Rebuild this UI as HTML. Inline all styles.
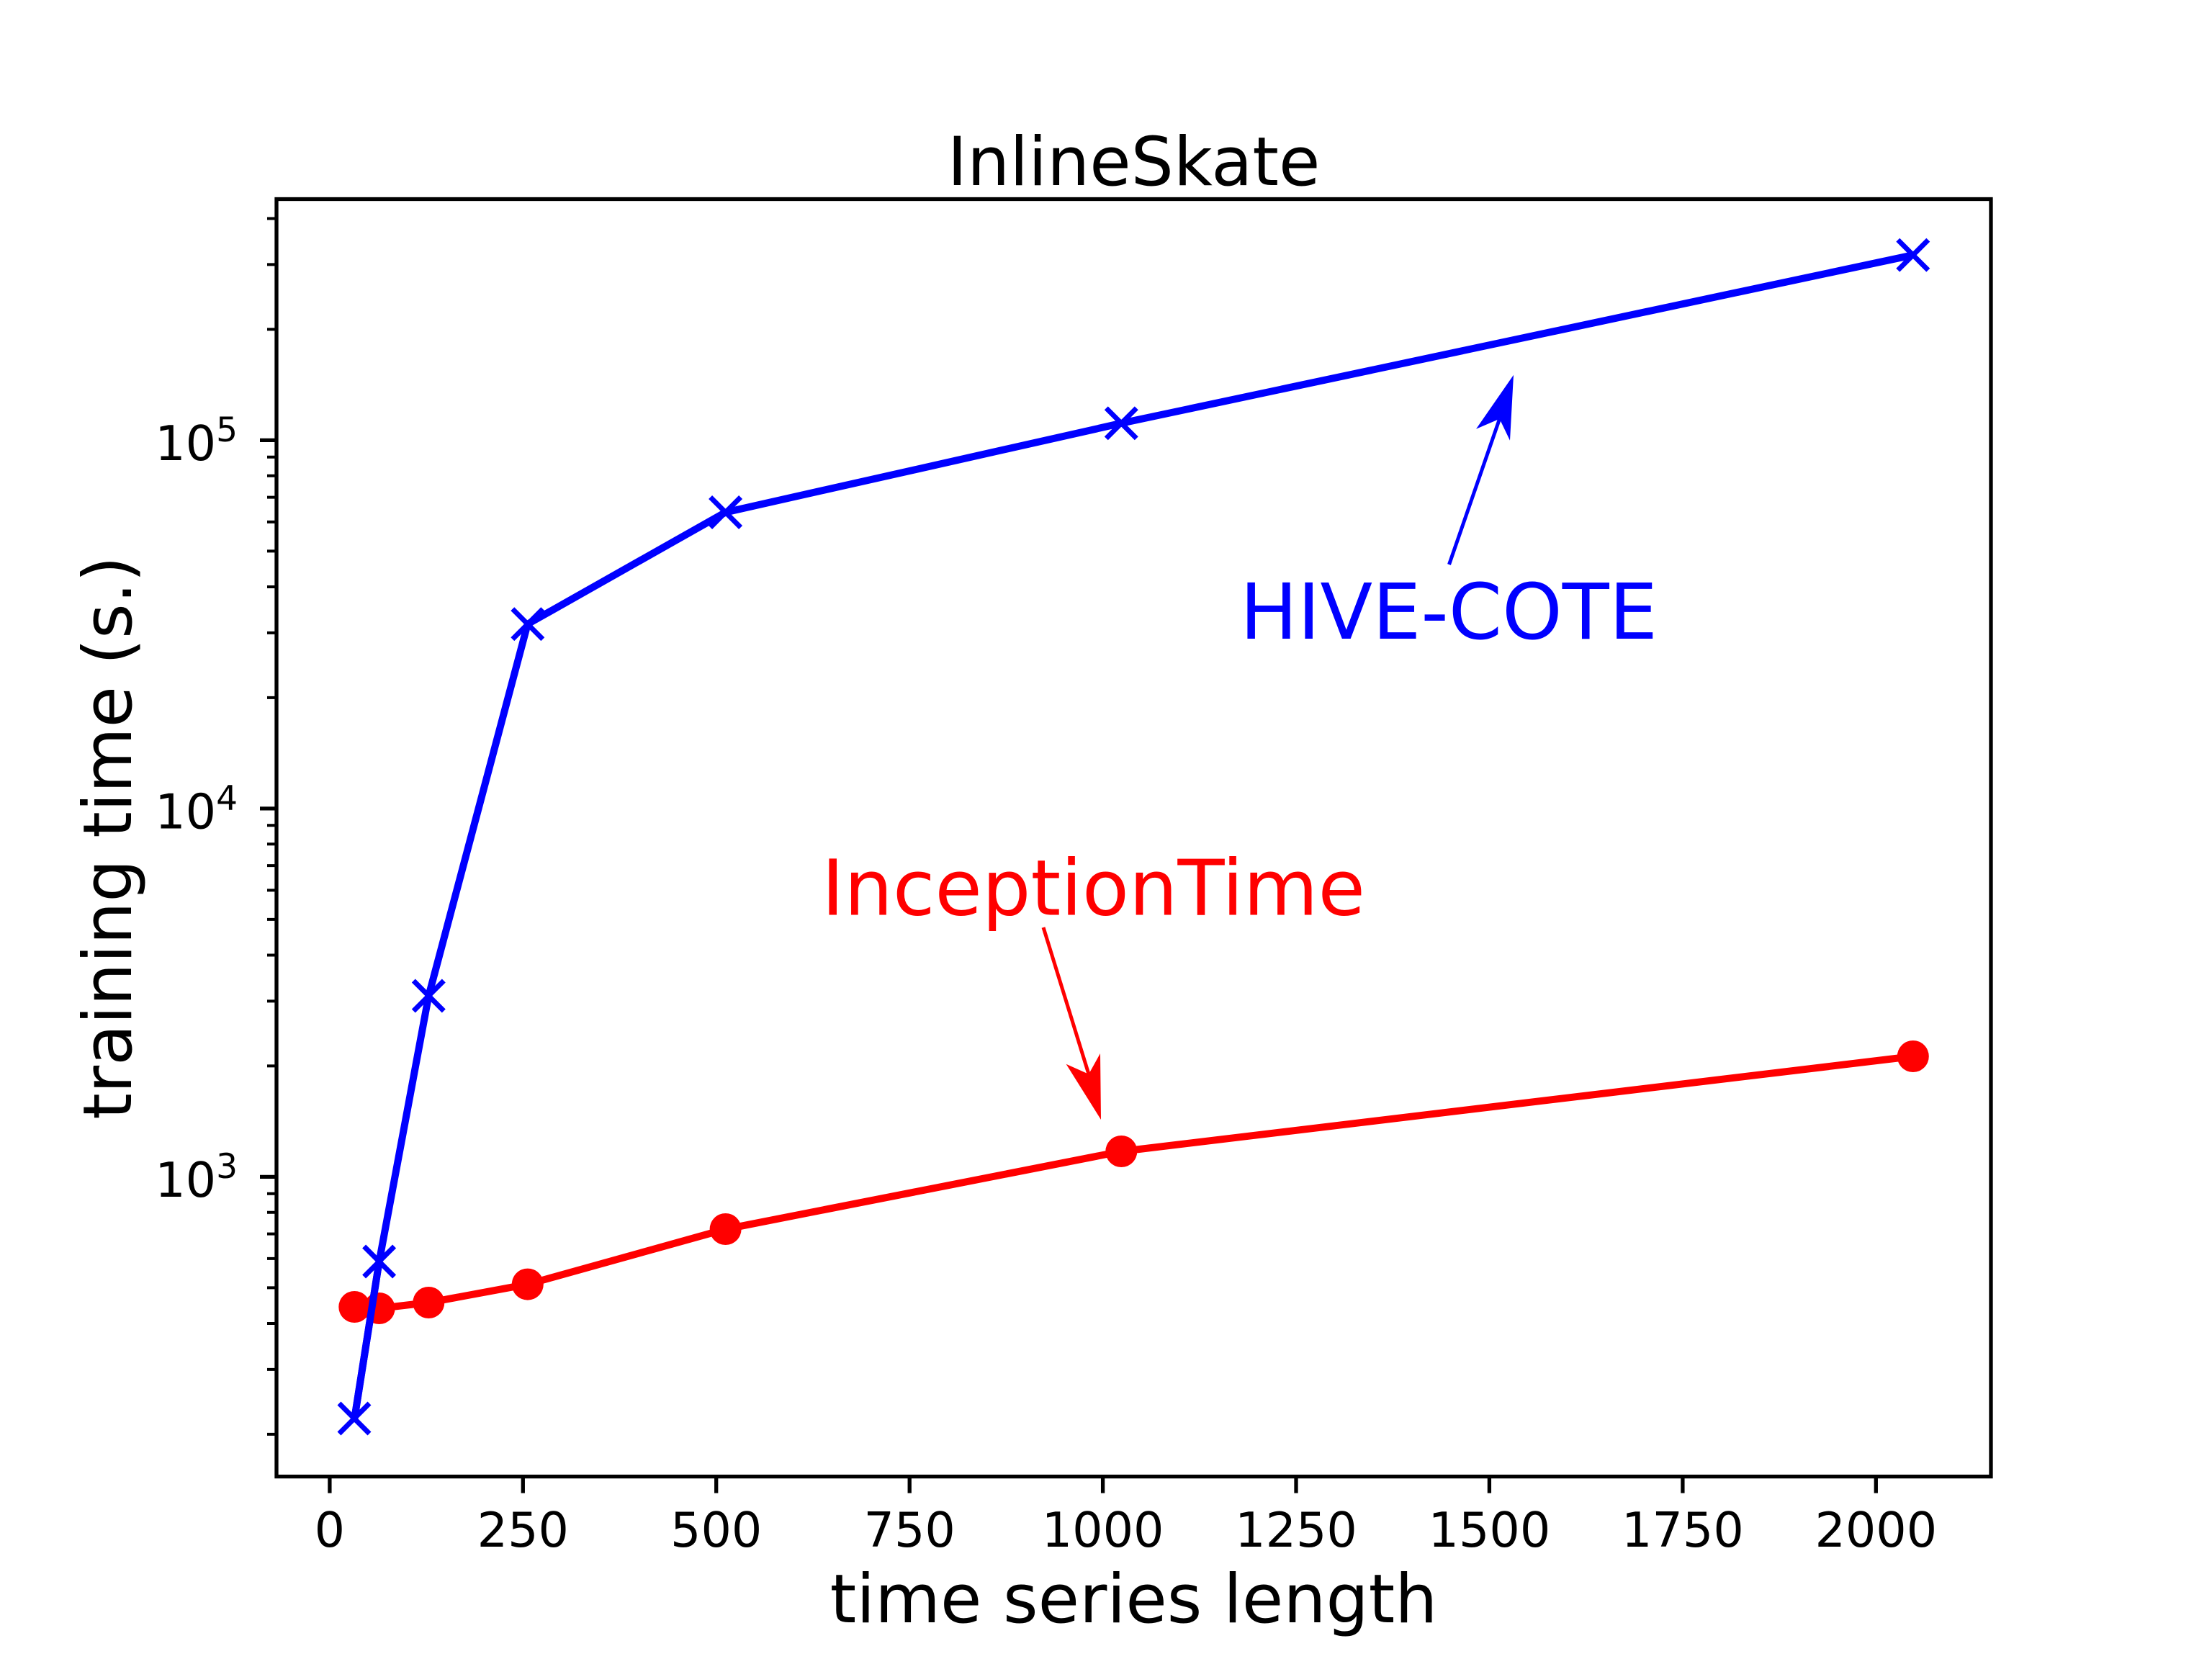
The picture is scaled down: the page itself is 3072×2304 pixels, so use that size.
<!DOCTYPE html>
<html><head><meta charset="utf-8"><style>html,body{margin:0;padding:0;background:#fff;}svg{display:block}</style></head>
<body>
<svg width="3072" height="2304" viewBox="0 0 3072 2304" xmlns="http://www.w3.org/2000/svg" font-family="'DejaVu Sans','Liberation Sans',sans-serif">
<rect width="3072" height="2304" fill="#fff"/>
<polyline fill="none" stroke="#0000ff" stroke-width="10" stroke-linejoin="round" points="492.3,1970 526.6,1752 595.3,1383 732.8,866.7 1007.6,711.5 1557.3,587.8 2656.8,354.2"/>
<g stroke="#0000ff" stroke-width="7">
<path d="M471,1949l42,42M513,1949l-42,42"/>
<path d="M505.6,1731l42,42M547.6,1731l-42,42"/>
<path d="M574.3,1362l42,42M616.3,1362l-42,42"/>
<path d="M711.8,845.7l42,42M753.8,845.7l-42,42"/>
<path d="M986.6,690.5l42,42M1028.6,690.5l-42,42"/>
<path d="M1536.3,566.8l42,42M1578.3,566.8l-42,42"/>
<path d="M2635.8,333.2l42,42M2677.8,333.2l-42,42"/>
</g>
<polyline fill="none" stroke="#ff0000" stroke-width="10" stroke-linejoin="round" points="492.3,1815 526.6,1817 595.3,1809 732.8,1783.6 1007.6,1707 1557.3,1599 2656.8,1467"/>
<g fill="#ff0000">
<circle cx="492.3" cy="1815" r="22"/><circle cx="526.6" cy="1817" r="22"/><circle cx="595.3" cy="1809" r="22"/><circle cx="732.8" cy="1783.6" r="22"/><circle cx="1007.6" cy="1707" r="22"/><circle cx="1557.3" cy="1599" r="22"/><circle cx="2656.8" cy="1467" r="22"/>
</g>
<polyline fill="none" stroke="#0000ff" stroke-width="10" points="492.3,1970 526.6,1752"/>
<rect x="384" y="276.5" width="2381" height="1774.1" fill="none" stroke="#000" stroke-width="5.3"/>
<g stroke="#000" stroke-width="5.3">
<path d="M457.9,2050.6v23M726.3,2050.6v23M994.7,2050.6v23M1263.2,2050.6v23M1531.6,2050.6v23M1800,2050.6v23M2068.4,2050.6v23M2336.9,2050.6v23M2605.3,2050.6v23"/>
<path d="M384,611.4h-23M384,1122.9h-23M384,1634.4h-23"/>
</g>
<g stroke="#000" stroke-width="4">
<path d="M384,1991.9h-13M384,1901.9h-13M384,1838h-13M384,1788.4h-13M384,1747.9h-13M384,1713.6h-13M384,1683.7h-13M384,1657.8h-13
M384,1480.4h-13M384,1390.4h-13M384,1326.5h-13M384,1276.9h-13M384,1236.4h-13M384,1202.1h-13M384,1172.2h-13M384,1146.3h-13
M384,968.9h-13M384,878.9h-13M384,815h-13M384,765.4h-13M384,724.9h-13M384,690.6h-13M384,660.7h-13M384,634.8h-13
M384,457.4h-13M384,367.4h-13M384,303.5h-13"/>
</g>
<g font-size="66.7" text-anchor="middle" fill="#000">
<text x="457.9" y="2148">0</text><text x="726.3" y="2148">250</text><text x="994.7" y="2148">500</text><text x="1263.2" y="2148">750</text><text x="1531.6" y="2148">1000</text><text x="1800" y="2148">1250</text><text x="2068.4" y="2148">1500</text><text x="2336.9" y="2148">1750</text><text x="2605.3" y="2148">2000</text>
</g>
<g font-size="66.7" fill="#000" text-anchor="end">
<text x="330" y="639">10<tspan font-size="47" dy="-26">5</tspan></text>
<text x="330" y="1150.5">10<tspan font-size="47" dy="-26">4</tspan></text>
<text x="330" y="1662">10<tspan font-size="47" dy="-26">3</tspan></text>
</g>
<text x="1574.5" y="2253" font-size="93.3" text-anchor="middle" fill="#000">time series length</text>
<text x="0" y="0" font-size="93.3" text-anchor="middle" fill="#000" transform="translate(182,1163.5) rotate(-90)">training time (s.)</text>
<text x="1574.5" y="257" font-size="93.3" text-anchor="middle" fill="#000">InlineSkate</text>
<text x="1722" y="887" font-size="106.7" fill="#0000ff" textLength="580" lengthAdjust="spacingAndGlyphs">HIVE-COTE</text>
<line x1="2012.5" y1="784" x2="2082.6" y2="581.7" stroke="#0000ff" stroke-width="5"/>
<polygon points="2102,520.7 2050,595.7 2082.6,581.7 2097,611.7" fill="#0000ff"/>
<text x="1141" y="1270.7" font-size="106.7" fill="#ff0000" textLength="755" lengthAdjust="spacingAndGlyphs">InceptionTime</text>
<line x1="1449" y1="1288" x2="1512" y2="1491.7" stroke="#ff0000" stroke-width="5"/>
<polygon points="1529,1555 1480.6,1477.7 1512,1491.7 1528,1463" fill="#ff0000"/>
</svg>
</body></html>
